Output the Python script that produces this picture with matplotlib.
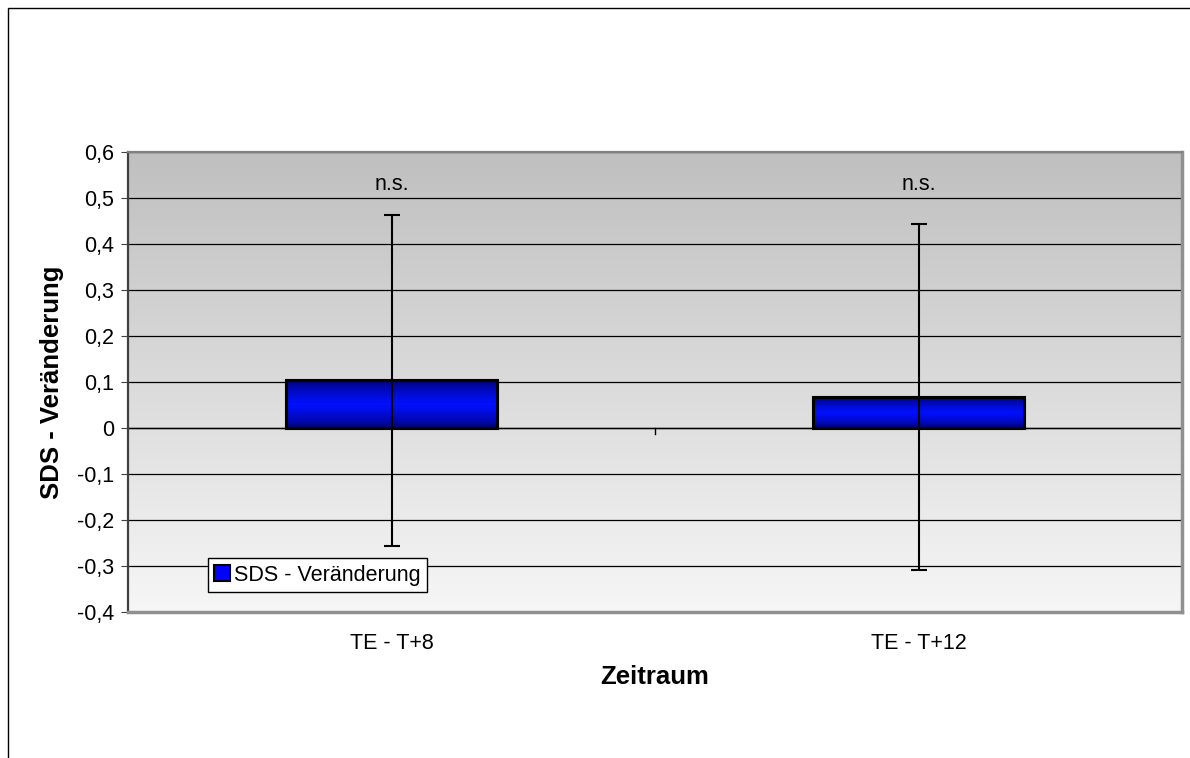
import numpy as np
import matplotlib
matplotlib.use("Agg")
import matplotlib.pyplot as plt
from matplotlib.patches import Rectangle
from matplotlib.ticker import FuncFormatter

plt.rcParams['font.family'] = ['Liberation Sans', 'DejaVu Sans']

categories = ["TE - T+8", "TE - T+12"]
values = [0.104, 0.067]
errors = [0.36, 0.376]
sig_labels = ["n.s.", "n.s."]
series_name = "SDS - Veränderung"

fig = plt.figure(figsize=(11.9, 7.58), dpi=100)
# outer chart frame
fig.patches.append(Rectangle((8 / 1190, -0.01), 1.2, 1 - 8 / 758 + 0.01,
                             transform=fig.transFigure, fill=False,
                             edgecolor="black", linewidth=1.0))

ax = fig.add_axes([128 / 1190, 1 - 612 / 758, 1054 / 1190, 460 / 758])
x = np.arange(len(categories))
ax.set_xlim(-0.5, 1.5)
ax.set_ylim(-0.4, 0.6)

# background gradient, gray on top to near white at bottom
grad = np.linspace(0, 1, 256).reshape(-1, 1)
top = np.array([0.75, 0.75, 0.75])
bot = np.array([0.965, 0.965, 0.965])
bg = top + (bot - top) * grad
ax.imshow(bg.reshape(256, 1, 3), extent=(-0.5, 1.5, -0.4, 0.6), aspect="auto",
          zorder=0, origin="upper")

ax.set_yticks(np.arange(-0.4, 0.61, 0.1))
ax.yaxis.grid(True, color="black", linewidth=0.9, zorder=1)
ax.set_axisbelow(True)
ax.yaxis.set_major_formatter(FuncFormatter(lambda v, p: ("%.1f" % v).replace(".", ",").replace("-0,0", "0").replace("0,0", "0")))

# zero axis line with category separator ticks
ax.axhline(0, color="black", linewidth=1.0, zorder=1.5)
for sep in [0.5, 1.5]:
    ax.plot([sep, sep], [0, -0.012], color="black", linewidth=1.0, zorder=1.5, clip_on=False)

# bars with vertical blue gradient
bw = 0.4
t = np.linspace(0, 1, 100)
shade = 1 - np.abs(t - 0.5) * 2
dark = np.array([0.0, 0.0, 0.33])
bright = np.array([0.0, 0.06, 1.0])
bar_img = (dark + (bright - dark) * shade[:, None] ** 0.55).reshape(100, 1, 3)
bars = ax.bar(x, values, width=bw, color="#0000ff", edgecolor="black", linewidth=2.2,
              zorder=3, label=series_name)
for b in bars:
    im = ax.imshow(bar_img, extent=(b.get_x(), b.get_x() + b.get_width(), 0, b.get_height()),
                   aspect="auto", zorder=3.1)
    im.set_clip_path(b)
    ax.add_patch(Rectangle((b.get_x(), 0), b.get_width(), b.get_height(), fill=False,
                           edgecolor="black", linewidth=2.2, zorder=3.2))

ax.errorbar(x, values, yerr=errors, fmt="none", ecolor="black", elinewidth=1.5,
            capsize=5.5, capthick=1.5, zorder=4)

for xi, lab in zip(x, sig_labels):
    ax.text(xi, 0.53, lab, ha="center", va="center", fontsize=15.5, zorder=5)

ax.set_xticks(x)
ax.set_xticklabels(categories, fontsize=15.5)
ax.tick_params(axis="x", length=0, pad=15)
ax.tick_params(axis="y", labelsize=15.5, length=5, pad=5, direction="out", color="#404040")
ax.set_ylabel("SDS - Veränderung", fontsize=18.5, fontweight="bold", labelpad=9)
ax.set_xlabel("Zeitraum", fontsize=18.5, fontweight="bold", labelpad=8)

ax.spines["left"].set_color("#404040")
ax.spines["left"].set_linewidth(1.6)
ax.spines["top"].set_color("#808080")
ax.spines["top"].set_linewidth(1.6)
ax.spines["right"].set_color("#909090")
ax.spines["right"].set_linewidth(2.5)
ax.spines["bottom"].set_color("#909090")
ax.spines["bottom"].set_linewidth(2.5)

leg = ax.legend(loc="lower left", bbox_to_anchor=(80 / 1054, 20 / 460), fontsize=15.5,
                frameon=True, fancybox=False, edgecolor="black", framealpha=1,
                handlelength=0.7, handleheight=0.7, handletextpad=0.2,
                borderpad=0.3, borderaxespad=0)
leg.get_frame().set_linewidth(1.0)
for h in leg.legend_handles:
    h.set_facecolor("#0000ff")
    h.set_edgecolor("black")
    h.set_linewidth(1.5)
leg.set_zorder(6)

fig.savefig("out.png", dpi=100, facecolor="white")
